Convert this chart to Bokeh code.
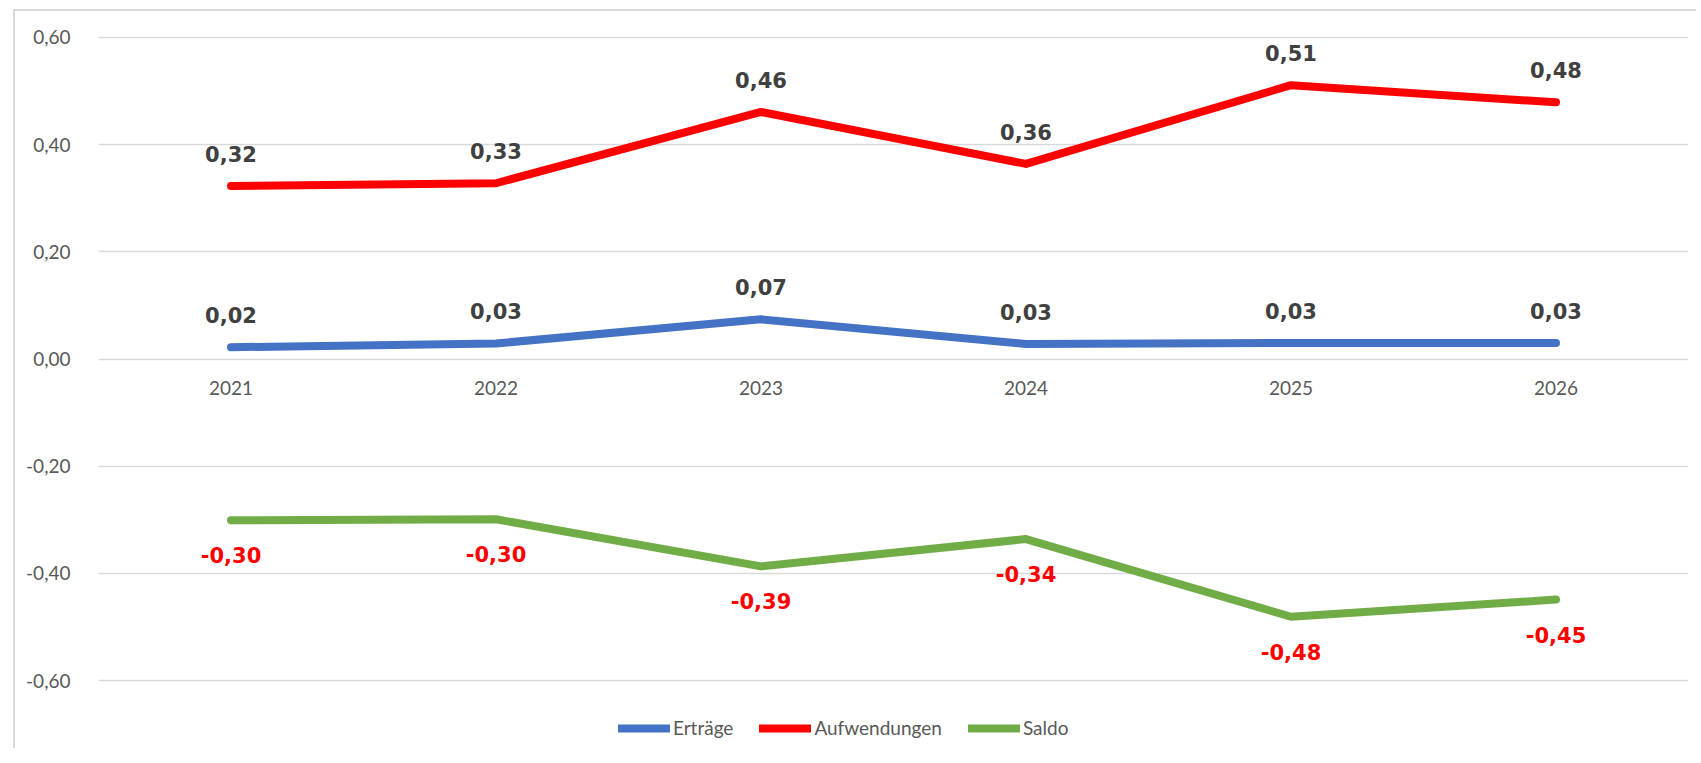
from bokeh.plotting import figure
from bokeh.models import (ColumnDataSource, Range1d, FactorRange, FixedTicker,
                          CustomJSTickFormatter, Legend, LegendItem)
from bokeh.core.properties import value
from bokeh.embed import file_html
from bokeh.resources import INLINE

years = ["2021", "2022", "2023", "2024", "2025", "2026"]
ertraege = [0.022, 0.029, 0.074, 0.028, 0.030, 0.030]
aufwendungen = [0.323, 0.328, 0.461, 0.364, 0.511, 0.479]
saldo = [-0.301, -0.299, -0.387, -0.336, -0.481, -0.449]
y_ticks = [-0.6, -0.4, -0.2, 0.0, 0.2, 0.4, 0.6]

def fmt(v):
    return ("%.2f" % v).replace(".", ",")

src = ColumnDataSource(dict(
    x=years, e=ertraege, a=aufwendungen, s=saldo,
    el=[fmt(v) for v in ertraege], al=[fmt(v) for v in aufwendungen],
    sl=[fmt(v) for v in saldo], zero=[0.0] * len(years),
))

p = figure(width=1683, height=739, x_range=FactorRange(*years),
           y_range=Range1d(-0.7306, 0.6317), output_backend="svg",
           toolbar_location=None, min_border_left=83, min_border_right=10,
           min_border_top=9, min_border_bottom=0)
p.margin = (9, 0, 0, 13)
p.styles = {"border-top": "2px solid #d9d9d9", "border-left": "2px solid #d9d9d9"}
p.outline_line_color = None
p.background_fill_color = "white"

p.xaxis.visible = False
p.xgrid.visible = False
p.ygrid.grid_line_color = "#d9d9d9"
p.ygrid.grid_line_width = 1.5
p.ygrid.ticker = FixedTicker(ticks=y_ticks)

ya = p.yaxis[0]
ya.ticker = FixedTicker(ticks=y_ticks)
ya.formatter = CustomJSTickFormatter(code="return tick.toFixed(2).replace('.', ',');")
ya.axis_line_color = None
ya.major_tick_line_color = None
ya.minor_tick_line_color = None
ya.major_label_standoff = 22
ya.major_label_text_font = "Lato"
ya.major_label_text_font_size = "19px"
ya.major_label_text_color = "#595959"

lw = 8
r_e = p.line("x", "e", source=src, line_color="#4472C4", line_width=lw,
             line_cap="round", line_join="round")
r_a = p.line("x", "a", source=src, line_color="#FF0000", line_width=lw,
             line_cap="round", line_join="round")
r_s = p.line("x", "s", source=src, line_color="#70AD47", line_width=lw,
             line_cap="round", line_join="round")

lab_kw = dict(text_align="center", text_baseline="middle",
              text_font=value("DejaVu Sans"), text_font_style="bold",
              text_font_size="21px")
p.text("x", "e", text="el", source=src, y_offset=-32, text_color="#404040", **lab_kw)
p.text("x", "a", text="al", source=src, y_offset=-32, text_color="#404040", **lab_kw)
p.text("x", "s", text="sl", source=src, y_offset=35, text_color="#FF0000", **lab_kw)

p.text("x", "zero", text="x", source=src, y_offset=29, text_align="center",
       text_baseline="middle", text_font=value("Lato"), text_font_size="19px",
       text_color="#595959")

legend = Legend(items=[LegendItem(label="Erträge", renderers=[r_e]),
                       LegendItem(label="Aufwendungen", renderers=[r_a]),
                       LegendItem(label="Saldo", renderers=[r_s])],
                orientation="horizontal", location=(520, 11))
legend.border_line_color = None
legend.background_fill_alpha = 0
legend.padding = 0
legend.margin = 0
legend.glyph_width = 52
legend.glyph_height = 20
legend.label_standoff = 3
legend.spacing = 26
legend.label_text_font = "Lato"
legend.label_text_font_size = "19px"
legend.label_text_color = "#595959"
p.add_layout(legend, "center")

open("out.html", "w").write(file_html(p, INLINE))
